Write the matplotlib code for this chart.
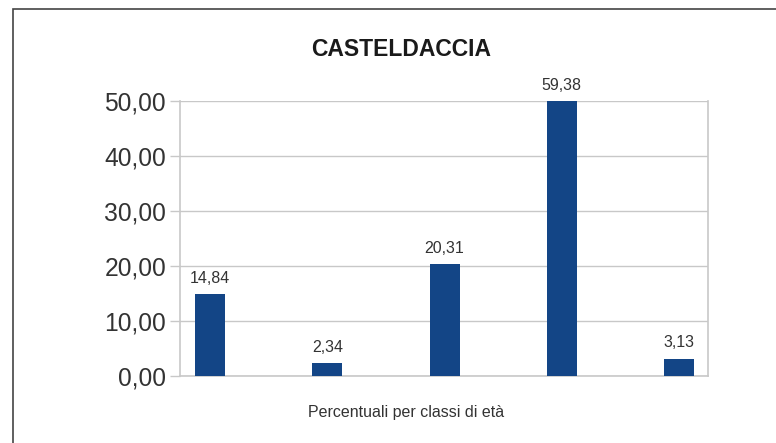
import matplotlib.pyplot as plt
import matplotlib.patches as mpatches
import numpy as np

# Data
categories = ['0-14', '15-24', '25-44', '45-64', '65+']
values = [14.84, 2.34, 20.31, 59.38, 3.13]
title = 'CASTELDACCIA'
xlabel = 'Percentuali per classi di età'
y_ticks = [0, 10, 20, 30, 40, 50]

BAR_COLOR = '#134586'
GRID_COLOR = '#c8c8c8'
TEXT_COLOR = '#333333'
W, H = 776, 443

plt.rcParams['font.family'] = ['Liberation Sans', 'DejaVu Sans']

fig = plt.figure(figsize=(W / 100, H / 100), dpi=100)
ax = fig.add_axes([180 / W, 1 - 376 / H, 528 / W, 275 / H])

x = np.arange(len(categories))
ax.bar(x, values, width=0.256, color=BAR_COLOR, zorder=3)

ymax = y_ticks[-1]
ax.set_ylim(0, ymax)
ax.set_xlim(-0.256, 4.247)
ax.set_yticks(y_ticks)
ax.set_yticklabels([f"{t:.2f}".replace('.', ',') for t in y_ticks],
                   fontsize=17.7, color=TEXT_COLOR)
ax.set_xticks([])
ax.tick_params(axis='y', length=7, width=1, color=GRID_COLOR, pad=3)
ax.yaxis.grid(True, color=GRID_COLOR, linewidth=1, zorder=0)

for side in ['left', 'right', 'bottom']:
    ax.spines[side].set_color(GRID_COLOR)
    ax.spines[side].set_linewidth(1.2)
ax.spines['top'].set_visible(False)

# value labels (bars taller than the axis are clipped, label sits at the top)
for i, v in enumerate(values):
    ax.annotate(f"{v:.2f}".replace('.', ','), xy=(i, min(v, ymax)),
                xytext=(0, 6), textcoords='offset points',
                ha='center', va='bottom', fontsize=11.5, color=TEXT_COLOR,
                annotation_clip=False)

fig.text(401 / W, 1 - 50 / H, title, ha='center', va='center',
         fontsize=16.5, fontweight='bold', color='#1a1a1a')
fig.text(406 / W, 1 - 412 / H, xlabel, ha='center', va='center',
         fontsize=11.5, color=TEXT_COLOR)

# outer chart border
fig.patches.append(mpatches.Rectangle((13 / W, -0.1), 1.2, 1 - 9 / H + 0.1,
                                      transform=fig.transFigure, fill=False,
                                      edgecolor='#444444', linewidth=1.2))

fig.savefig('out.png', dpi=100)
